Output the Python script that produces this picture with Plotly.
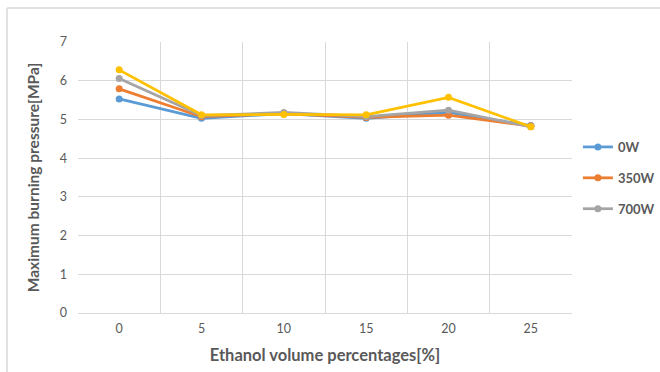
import plotly.graph_objects as go

categories = ["0", "5", "10", "15", "20", "25"]
series_names = ["0W", "350W", "700W", ""]
p_0w = [5.53, 5.03, 5.15, 5.03, 5.18, 4.84]
p_350w = [5.79, 5.07, 5.15, 5.05, 5.11, 4.83]
p_700w = [6.06, 5.10, 5.18, 5.07, 5.24, 4.81]
p_extra = [6.28, 5.12, 5.13, 5.12, 5.57, 4.81]
colors = ["#5B9BD5", "#ED7D31", "#A5A5A5", "#FFC000"]

xs = list(range(len(categories)))
fig = go.Figure()
for i, (name, vals) in enumerate(zip(series_names, [p_0w, p_350w, p_700w, p_extra])):
    fig.add_trace(go.Scatter(
        x=xs, y=vals, name=name, mode="lines+markers",
        line=dict(color=colors[i], width=2.75),
        marker=dict(color=colors[i], size=7),
        showlegend=(name != ""), legendgroup=f"g{i}",
    ))

font_family = "Lato, 'Open Sans', sans-serif"
fig.update_layout(
    width=660, height=372,
    margin=dict(l=78, r=88, t=42, b=59, autoexpand=False),
    paper_bgcolor="white", plot_bgcolor="white",
    font=dict(family=font_family, color="#595959", size=12),
    legend=dict(x=1.012, y=0.668, xanchor="left", yanchor="top",
                font=dict(size=13, color="#595959", weight="bold"), tracegroupgap=11,
                itemwidth=30, bgcolor="rgba(0,0,0,0)"),
    xaxis=dict(
        range=[-0.5, 5.5], tickvals=xs, ticktext=categories,
        showgrid=False, zeroline=False, showline=False, ticks="",
        tickfont=dict(size=12.5, color="#595959"), ticklabelstandoff=6,
        minor=dict(tickvals=[x - 0.5 for x in range(len(categories) + 1)],
                   showgrid=True, gridcolor="#D9D9D9", gridwidth=1, ticks=""),
        title=dict(text="<b>Ethanol volume percentages[%]</b>",
                   font=dict(size=16.5, color="#595959"), standoff=14),
    ),
    yaxis=dict(
        range=[0, 7], dtick=1, showgrid=True, gridcolor="#D9D9D9", gridwidth=1,
        zeroline=True, zerolinecolor="#D9D9D9", zerolinewidth=1, showline=False,
        tickfont=dict(size=12.5, color="#595959"), ticks="", ticklen=0,
        ticklabelstandoff=10,
        title=dict(text="<b>Maximum burning pressure[MPa]</b>",
                   font=dict(size=15.5, color="#595959"), standoff=16),
    ),
)

# outer chart frame (top and left edges visible)
fig.add_shape(type="line", xref="paper", yref="paper",
              x0=-0.1437, x1=1.2, y0=1.1255, y1=1.1255,
              line=dict(color="#D9D9D9", width=1.5))
fig.add_shape(type="line", xref="paper", yref="paper",
              x0=-0.1437, x1=-0.1437, y0=1.1255, y1=-0.25,
              line=dict(color="#D9D9D9", width=1.5))

fig.write_html("out.html")
